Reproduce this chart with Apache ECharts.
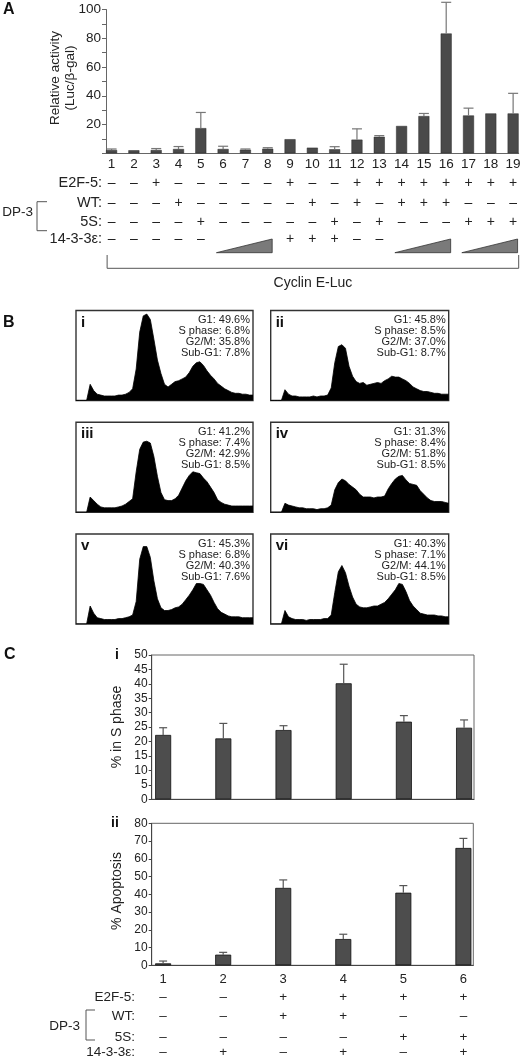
<!DOCTYPE html>
<html><head><meta charset="utf-8">
<script src="https://cdn.jsdelivr.net/npm/echarts@6/dist/echarts.min.js"></script>
<style>html,body{margin:0;padding:0;background:#fff}#c{width:525px;height:1059px}</style>
</head><body><div id="c"></div>
<script>
const FONT = '"Liberation Sans", Arial, Helvetica, sans-serif';

// ---------- Panel A ----------
const lanesA = [1,2,3,4,5,6,7,8,9,10,11,12,13,14,15,16,17,18,19];
const activityA = [2.3, 2.1, 2.3, 3, 17.5, 3, 2.5, 3.2, 9.8, 3.9, 2.8, 9.5, 11.5, 19, 25.9, 83.3, 26.3, 27.7, 27.7];
const activityErrTopA = [3, null, 3.3, 4.7, 28.4, 4.9, 3, 3.9, null, null, 4.6, 17, 12.3, null, 27.7, 105, 31.4, null, 41.7];
const e2f5A = ['–','–','+','–','–','–','–','–','+','–','–','+','+','+','+','+','+','+','+'];
const wtA   = ['–','–','–','+','–','–','–','–','–','+','–','+','–','+','+','+','–','–','–'];
const s5A   = ['–','–','–','–','+','–','–','–','–','–','+','–','+','–','–','–','+','+','+'];
const e1433A = ['–','–','–','–','–','','','','+','+','+','–','–','','','','','',''];
const wedgesA = [[6,8],[14,16],[17,19]];
const yTicksA = [20,40,60,80,100];

// ---------- Panel B ----------
const histChannels = [0,4,8,12,16,20,24,28,32,36,40,44,48,52,56,60,64,68,72,76,80,84,88,92,96,100,104,108,112,116,120,124,128,132,136,140,144,148,152,156,160,164,168,172,176,180,184,188,192,196,200];
const histI   = [0,0,0,0,18,11,7,6,5,5,5,5,6,6,7,9,13,35,76,94,96,90,68,45,30,18,15,18,21,22,24,26,31,38,42,43,39,33,28,24,19,16,13,11,9,8,8,7,7,6,6];
const histII  = [0,0,0,0,12,7,5,5,4,4,4,4,5,4,5,5,6,14,42,60,62,58,38,27,21,19,20,17,18,19,20,19,22,24,27,26,26,24,22,19,15,13,11,10,10,9,8,8,7,7,7];
const histIII = [0,0,0,0,17,13,9,6,5,5,5,5,6,7,9,12,15,45,70,78,79,77,62,40,22,14,13,13,15,19,27,35,41,45,44,43,38,34,28,22,14,11,9,8,7,7,7,7,7,7,7];
const histIV  = [0,0,0,0,10,8,7,6,5,5,4,4,4,3,4,4,5,8,25,33,37,35,31,28,25,20,17,17,17,16,17,17,18,26,32,37,40,41,36,32,31,30,24,20,16,13,12,12,12,11,10];
const histV   = [0,0,0,0,20,12,7,6,5,5,5,5,6,6,7,8,10,25,72,86,86,74,48,28,18,15,15,16,18,19,22,27,32,38,45,45,44,38,32,24,17,13,11,9,8,8,8,7,7,7,7];
const histVI  = [0,0,0,0,15,8,6,5,5,5,4,5,5,5,5,6,6,10,35,58,65,57,42,30,22,19,18,18,19,20,20,22,24,28,33,38,45,44,36,26,20,16,12,11,10,10,10,9,9,8,8];
const histNames = ['i','ii','iii','iv','v','vi'];
const histG1   = ['49.6','45.8','41.2','31.3','45.3','40.3'];
const histS    = ['6.8','8.5','7.4','8.4','6.8','7.1'];
const histG2M  = ['35.8','37.0','42.9','51.8','40.3','44.1'];
const histSubG1= ['7.8','8.7','8.5','8.5','7.6','8.5'];

// ---------- Panel C ----------
const lanesC = [1,2,3,4,5,6];
const sPhase = [22.3, 21.1, 24.0, 40.2, 26.9, 24.8];
const sPhaseErrTop = [24.8, 26.3, 25.5, 46.8, 29.0, 27.5];
const apoptosis = [1.1, 6.0, 43.6, 14.8, 40.9, 66.1];
const apoptosisErrTop = [2.4, 7.3, 48.1, 17.5, 44.9, 71.5];
const e2f5C = ['–','–','+','+','+','+'];
const wtC   = ['–','–','+','+','–','–'];
const s5C   = ['–','–','–','–','+','+'];
const e1433C= ['–','+','–','+','–','+'];

const histData = [histI, histII, histIII, histIV, histV, histVI];
const histBoxes = [
  {left:76, top:310.5, width:177, height:90},
  {left:270.7, top:310.5, width:178, height:90},
  {left:76, top:422.3, width:177, height:90},
  {left:270.7, top:422.3, width:178, height:90},
  {left:76, top:534, width:177, height:90},
  {left:270.7, top:534, width:178, height:90}
];

function errRenderer(color, capHalf){
  return function(params, api){
    const e = api.value(2);
    if (e === null || e === undefined || isNaN(e)) return null;
    const p0 = api.coord([api.value(0), api.value(1)]);
    const p1 = api.coord([api.value(0), e]);
    return {type:'group', children:[
      {type:'line', shape:{x1:p0[0], y1:p0[1], x2:p1[0], y2:p1[1]}, style:{stroke:color, lineWidth:1.2}},
      {type:'line', shape:{x1:p1[0]-capHalf, y1:p1[1], x2:p1[0]+capHalf, y2:p1[1]}, style:{stroke:color, lineWidth:1.2}}
    ]};
  };
}

const chart = echarts.init(document.getElementById('c'));

const grids = [{left:106, top:9.5, width:412.7, height:143.8}];
histBoxes.forEach(b => grids.push({left:b.left, top:b.top, width:b.width, height:b.height, show:true, borderColor:'#333', borderWidth:1.4, backgroundColor:'#fff'}));
grids.push({left:151.7, top:655, width:322.3, height:144.3, show:true, borderColor:'#666', borderWidth:1});
grids.push({left:151.7, top:823.3, width:321.6, height:142, show:true, borderColor:'#666', borderWidth:1});

const xAxes = [], yAxes = [];
xAxes.push({gridIndex:0, type:'value', min:0.75, max:19.25, splitLine:{show:false},
  axisLine:{lineStyle:{color:'#666', width:1}}, axisTick:{show:false},
  axisLabel:{customValues:lanesA, formatter:v=>String(v), fontSize:13.5, color:'#222', margin:4, fontFamily:FONT}});
yAxes.push({gridIndex:0, type:'value', min:0, max:100, interval:10, splitLine:{show:false},
  axisLine:{show:true, lineStyle:{color:'#666', width:1}}, axisTick:{show:true, length:4, lineStyle:{color:'#666'}},
  axisLabel:{formatter:v => yTicksA.indexOf(v) >= 0 ? String(v) : '', fontSize:13.5, color:'#222', margin:5, fontFamily:FONT}});
for (let i=0;i<6;i++){
  xAxes.push({gridIndex:i+1, type:'value', min:0, max:200, show:false});
  yAxes.push({gridIndex:i+1, type:'value', min:0, max:100, show:false});
}
xAxes.push({gridIndex:7, type:'value', min:0.81, max:6.165, splitLine:{show:false},
  axisLine:{lineStyle:{color:'#444'}}, axisTick:{show:false}, axisLabel:{show:false}});
yAxes.push({gridIndex:7, type:'value', min:0, max:50, interval:5, splitLine:{show:false},
  axisLine:{show:true, lineStyle:{color:'#444'}}, axisTick:{show:true, length:3, lineStyle:{color:'#444'}},
  axisLabel:{fontSize:12, color:'#222', margin:4, fontFamily:FONT}});
xAxes.push({gridIndex:8, type:'value', min:0.81, max:6.165, splitLine:{show:false},
  axisLine:{lineStyle:{color:'#444'}}, axisTick:{show:false},
  axisLabel:{customValues:lanesC, formatter:v=>String(v), fontSize:13, color:'#222', margin:8, fontFamily:FONT}});
yAxes.push({gridIndex:8, type:'value', min:0, max:80, interval:10, splitLine:{show:false},
  axisLine:{show:true, lineStyle:{color:'#444'}}, axisTick:{show:true, length:3, lineStyle:{color:'#444'}},
  axisLabel:{fontSize:12, color:'#222', margin:4, fontFamily:FONT}});

const series = [];
series.push({type:'bar', xAxisIndex:0, yAxisIndex:0, barWidth:11,
  data: lanesA.map((l,i)=>[l, activityA[i]]),
  itemStyle:{color:'#4a4a4a', borderColor:'#2a2a2a', borderWidth:0.5}, silent:true});
series.push({type:'custom', xAxisIndex:0, yAxisIndex:0, clip:false, z:3,
  data: lanesA.map((l,i)=>[l, activityA[i], activityErrTopA[i]]),
  renderItem: errRenderer('#777', 5), silent:true});
histData.forEach((h, i) => {
  series.push({type:'line', xAxisIndex:i+1, yAxisIndex:i+1, symbol:'none', silent:true,
    data: histChannels.map((c,k)=>[c, h[k]]),
    lineStyle:{color:'#000', width:0.8}, areaStyle:{color:'#000', opacity:1}});
});
series.push({type:'bar', xAxisIndex:7, yAxisIndex:7, barWidth:16,
  data: lanesC.map((l,i)=>[l, sPhase[i]]),
  itemStyle:{color:'#4d4d4d', borderColor:'#111', borderWidth:0.8}, silent:true});
series.push({type:'custom', xAxisIndex:7, yAxisIndex:7, clip:false, z:3,
  data: lanesC.map((l,i)=>[l, sPhase[i], sPhaseErrTop[i]]),
  renderItem: errRenderer('#555', 4), silent:true});
series.push({type:'bar', xAxisIndex:8, yAxisIndex:8, barWidth:16,
  data: lanesC.map((l,i)=>[l, apoptosis[i]]),
  itemStyle:{color:'#4d4d4d', borderColor:'#111', borderWidth:0.8}, silent:true});
series.push({type:'custom', xAxisIndex:8, yAxisIndex:8, clip:false, z:3,
  data: lanesC.map((l,i)=>[l, apoptosis[i], apoptosisErrTop[i]]),
  renderItem: errRenderer('#555', 4), silent:true});

chart.setOption({animation:false, backgroundColor:'#fff', grid:grids, xAxis:xAxes, yAxis:yAxes, series:series});

// ---------- annotations ----------
const g = [];
function txt(s, x, y, opt){
  opt = opt || {};
  g.push({type:'text', silent:true, x:x, y:y, rotation:opt.rot||0, z:10,
    style:{text:s, x:0, y:0, textAlign:opt.align||'center', textVerticalAlign:'middle',
      fontSize:opt.size||13.5, fontWeight:opt.bold?'bold':'normal', fontFamily:FONT, fill:opt.color||'#222'}});
}
function line(points, color, w){
  g.push({type:'polyline', silent:true, z:10, shape:{points:points}, style:{stroke:color||'#555', lineWidth:w||1, fill:null}});
}
function pxA(v){ return chart.convertToPixel({xAxisIndex:0, yAxisIndex:0}, [v, 0])[0]; }
function pxC(v){ return chart.convertToPixel({xAxisIndex:8, yAxisIndex:8}, [v, 0])[0]; }

// Panel letters
txt('A', 3, 10, {align:'left', bold:true, size:16, color:'#111'});
txt('B', 3, 323, {align:'left', bold:true, size:16, color:'#111'});
txt('C', 4, 655, {align:'left', bold:true, size:16, color:'#111'});

// Panel A y title
txt('Relative activity', 55, 78, {rot:Math.PI/2, size:13.5});
txt('(Luc/β-gal)', 70, 78, {rot:Math.PI/2, size:13.5});

// Panel A table
const rowsA = [['E2F-5:', e2f5A, 182.7], ['WT:', wtA, 203.3], ['5S:', s5A, 222.3], ['14-3-3ε:', e1433A, 239]];
rowsA.forEach(r => {
  txt(r[0], 102, r[2], {align:'right', size:14.5});
  lanesA.forEach((l,i) => { if (r[1][i]) txt(r[1][i], pxA(l), r[2], {size:14}); });
});
txt('DP-3', 33, 212.7, {align:'right', size:13.5});
line([[47,201.7],[37,201.7],[37,230.7],[47,230.7]], '#555', 1);
wedgesA.forEach(w => {
  const xl = pxA(w[0]-0.3), xr = pxA(w[1]+0.2);
  g.push({type:'polygon', silent:true, z:10, shape:{points:[[xl,252.7],[xr,252.7],[xr,239]]},
    style:{fill:'#7a7a7a', stroke:'#333', lineWidth:0.8}});
});
const bxL = pxA(0.8), bxR = pxA(19.25);
line([[bxL,255],[bxL,268.3],[bxR,268.3],[bxR,255]], '#555', 1);
txt('Cyclin E-Luc', (bxL+bxR)/2, 283, {size:14});

// Panel B text
histBoxes.forEach((b, i) => {
  txt(histNames[i], b.left+5, b.top+12, {align:'left', bold:true, size:15, color:'#111'});
  const rx = b.left + b.width - 3;
  txt('G1: ' + histG1[i] + '%', rx, b.top+9.5, {align:'right', size:11});
  txt('S phase: ' + histS[i] + '%', rx, b.top+20.5, {align:'right', size:11});
  txt('G2/M: ' + histG2M[i] + '%', rx, b.top+31.5, {align:'right', size:11});
  txt('Sub-G1: ' + histSubG1[i] + '%', rx, b.top+42.5, {align:'right', size:11});
});

// Panel C titles
txt('i', 117, 655, {bold:true, size:14, color:'#111'});
txt('ii', 115, 823.3, {bold:true, size:14, color:'#111'});
txt('% in S phase', 117.5, 727, {rot:Math.PI/2, size:14});
txt('% Apoptosis', 117, 891, {rot:Math.PI/2, size:14});

// Panel C table
const rowsC = [['E2F-5:', e2f5C, 997.3], ['WT:', wtC, 1016.7], ['5S:', s5C, 1037.3], ['14-3-3ε:', e1433C, 1052.3]];
rowsC.forEach(r => {
  txt(r[0], 135, r[2], {align:'right', size:13.5});
  lanesC.forEach((l,i) => txt(r[1][i], pxC(l), r[2], {size:13.5}));
});
txt('DP-3', 80, 1026, {align:'right', size:13.5});
line([[95,1010],[86,1010],[86,1040],[95,1040]], '#555', 1);

chart.setOption({graphic: g});
</script></body></html>
